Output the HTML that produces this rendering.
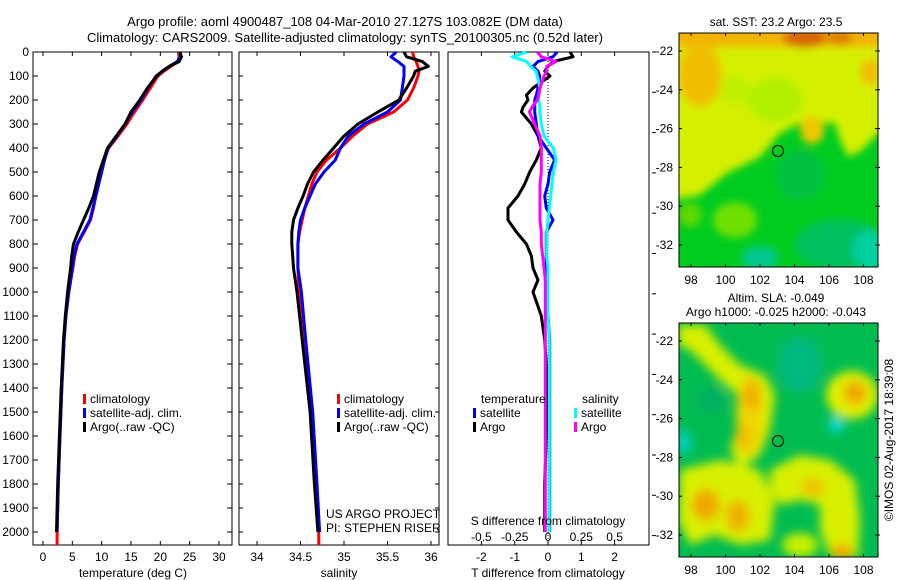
<!DOCTYPE html>
<html><head><meta charset="utf-8">
<style>
html,body{margin:0;padding:0;background:#fff;}
svg{display:block;font-family:"Liberation Sans",sans-serif;}
</style></head>
<body>
<svg id="fig" width="900" height="580" viewBox="0 0 900 580" xmlns="http://www.w3.org/2000/svg">
<defs>
<filter id="b1" x="-50%" y="-50%" width="200%" height="200%"><feGaussianBlur stdDeviation="4"/></filter>
<filter id="b2" x="-50%" y="-50%" width="200%" height="200%"><feGaussianBlur stdDeviation="5"/></filter>
<clipPath id="c1"><rect x="679" y="33" width="199" height="234"/></clipPath>
<clipPath id="c2"><rect x="679" y="323" width="199" height="234"/></clipPath>
</defs>
<g font-size="13" fill="#000">
<text x="345" y="26" text-anchor="middle">Argo profile: aoml 4900487_108 04-Mar-2010 27.127S 103.082E (DM data)</text>
<text x="345" y="42" text-anchor="middle">Climatology: CARS2009. Satellite-adjusted climatology: synTS_20100305.nc (0.52d later)</text>
</g>
<g id="p1"></g>
<g id="p2"></g>
<g id="p3"></g>

<!-- Map 1: SST -->
<g>
<text x="776" y="26" font-size="12" text-anchor="middle">sat. SST: 23.2 Argo: 23.5</text>
<g clip-path="url(#c1)">
<rect x="679" y="33" width="199" height="234" fill="#00cc20"/>
<g filter="url(#b1)">
<path d="M670 25 L890 25 L890 133 L878 133 L862 150 L848 157 L840 140 L835 123 L800 123 L780 133 L760 157 L727 173 L700 195 L670 200 Z" fill="#d4f000"/>
<ellipse cx="775" cy="100" rx="28" ry="22" fill="#b0f000"/>
<ellipse cx="735" cy="90" rx="15" ry="15" fill="#c0f000"/>
<rect x="670" y="25" width="230" height="22" fill="#f2b400"/>
<ellipse cx="700" cy="75" rx="22" ry="32" fill="#f0c000"/>
<ellipse cx="805" cy="38" rx="22" ry="10" fill="#d86800"/>
<ellipse cx="840" cy="38" rx="12" ry="8" fill="#e08000"/>
<ellipse cx="870" cy="72" rx="10" ry="14" fill="#f0c000"/>
<ellipse cx="812" cy="130" rx="12" ry="14" fill="#f0c800"/>
<ellipse cx="735" cy="220" rx="22" ry="18" fill="#70e000"/>
<ellipse cx="690" cy="215" rx="12" ry="12" fill="#60d800"/>
<ellipse cx="840" cy="245" rx="45" ry="25" fill="#00c060"/>
<ellipse cx="870" cy="250" rx="18" ry="20" fill="#00d0a0"/>
<ellipse cx="760" cy="258" rx="18" ry="12" fill="#00c890"/>
<ellipse cx="800" cy="175" rx="25" ry="25" fill="#00c040"/>
</g>
</g>
<rect x="679" y="33" width="199" height="234" fill="none" stroke="#000" stroke-width="1"/>
<circle cx="778" cy="151" r="5.5" fill="none" stroke="#000"/>
</g>

<!-- Map 2: SLA -->
<g>
<text x="776" y="302" font-size="12" text-anchor="middle">Altim. SLA: -0.049</text>
<text x="776" y="316" font-size="12" text-anchor="middle">Argo h1000: -0.025 h2000: -0.043</text>
<g clip-path="url(#c2)">
<rect x="679" y="323" width="199" height="234" fill="#00bc50"/>
<g filter="url(#b2)">
<path d="M678 325 L705 325 L720 345 L740 365 L765 375 L775 395 L770 430 L760 455 L740 470 L730 450 L740 420 L738 395 L720 380 L705 365 L690 350 L678 345 Z" fill="#d8f000"/>
<ellipse cx="750" cy="415" rx="14" ry="40" fill="#f0d800"/>
<ellipse cx="752" cy="395" rx="9" ry="15" fill="#f0b000"/>
<ellipse cx="743" cy="438" rx="8" ry="14" fill="#f0c000"/>
<path d="M680 470 L720 460 L760 470 L775 500 L770 540 L740 545 L715 535 L690 545 L678 520 Z" fill="#d8f000"/>
<ellipse cx="706" cy="505" rx="14" ry="16" fill="#f0a800"/>
<ellipse cx="738" cy="516" rx="12" ry="16" fill="#f0b000"/>
<path d="M770 470 L800 455 L830 460 L855 480 L860 520 L858 557 L830 557 L820 530 L820 505 L800 500 L780 505 L770 490 Z" fill="#d8f000"/>
<ellipse cx="813" cy="487" rx="12" ry="9" fill="#f0c000"/>
<ellipse cx="842" cy="552" rx="10" ry="9" fill="#f0a800"/>
<ellipse cx="800" cy="545" rx="18" ry="12" fill="#c8f000"/>
<ellipse cx="852" cy="395" rx="26" ry="24" fill="#e0f000"/>
<ellipse cx="855" cy="393" rx="12" ry="12" fill="#f0a800"/>
<ellipse cx="836" cy="425" rx="8" ry="8" fill="#00d8d0"/>
<ellipse cx="684" cy="442" rx="7" ry="12" fill="#00d0c8"/>
<ellipse cx="800" cy="365" rx="22" ry="28" fill="#00b880"/>
<ellipse cx="712" cy="400" rx="14" ry="14" fill="#00b060"/>
</g>
</g>
<rect x="679" y="323" width="199" height="234" fill="none" stroke="#000" stroke-width="1"/>
<circle cx="778" cy="441" r="5.5" fill="none" stroke="#000"/>
</g>
<g id="maxes" font-size="12"></g>
<text transform="translate(893,440) rotate(-90)" font-size="12" text-anchor="middle">©IMOS 02-Aug-2017 18:39:08</text>
</svg>
<script>
// ---------- data ----------
const depthT = [0,20,40,60,80,100,150,200,250,300,350,400,450,500,550,600,650,700,750,800,850,900,1000,1100,1200,1400,1600,1800,2000];
const tempArgo = [23.3,23.6,23.2,21.5,20.3,19.4,17.8,16.5,15.0,14.0,12.5,11.0,10.3,9.6,9.1,8.6,7.8,6.9,6.0,5.2,4.9,4.7,4.2,3.8,3.5,3.1,2.8,2.5,2.3];
const tempClim = [23.1,23.2,23.0,21.8,20.6,19.6,18.3,17.0,15.6,14.3,12.8,11.2,10.4,9.9,9.5,9.0,8.6,8.1,7.0,5.9,5.4,5.1,4.4,3.9,3.6,3.2,2.9,2.6,2.4];
const tempSat = [23.4,23.4,22.9,21.5,20.4,19.3,17.9,16.7,15.2,14.0,12.6,11.1,10.5,10.0,9.5,9.0,8.5,8.0,6.9,5.8,5.3,5.0,4.4,3.9,3.6,3.2,2.9,2.6,2.4];
const depthS = [0,20,40,60,80,100,150,200,250,300,350,400,450,500,550,600,650,700,750,800,850,900,1000,1200,1500,1800,2000];
const salArgo = [35.69,35.72,35.90,35.97,35.82,35.80,35.72,35.63,35.39,35.16,35.00,34.88,34.76,34.65,34.58,34.53,34.47,34.42,34.40,34.40,34.41,34.42,34.46,34.52,34.61,34.66,34.70];
const salClim = [35.79,35.80,35.83,35.85,35.86,35.85,35.80,35.73,35.57,35.27,35.10,34.96,34.80,34.69,34.63,34.59,34.55,34.52,34.49,34.47,34.47,34.47,34.48,34.54,34.62,34.67,34.71];
const salSat = [35.60,35.54,35.62,35.69,35.69,35.69,35.67,35.65,35.50,35.23,35.05,34.96,34.90,34.77,34.67,34.61,34.55,34.50,34.48,34.47,34.47,34.47,34.51,34.56,34.64,34.69,34.72];
const depthD = [0,20,40,60,80,100,150,180,200,230,250,300,350,400,450,500,550,600,650,700,750,800,850,900,950,1000,1100,1200,1300,1400,1600,1800,2000];
const dTArgo = [0.66,0.75,0.15,0.0,-0.1,0.06,-0.45,-0.65,-0.6,-0.75,-0.8,-0.5,-0.3,-0.2,-0.35,-0.55,-0.7,-0.9,-1.2,-1.2,-0.95,-0.65,-0.5,-0.45,-0.3,-0.45,-0.2,-0.1,-0.05,0.0,-0.05,-0.1,-0.1];
const dTSat = [0.27,0.15,-0.3,-0.45,-0.3,-0.25,-0.3,-0.35,-0.4,-0.4,-0.4,-0.35,-0.3,-0.05,0.2,0.05,0.0,-0.1,-0.05,0.15,-0.05,-0.05,-0.05,-0.05,-0.05,-0.05,0.0,0.05,0.05,0.05,0.05,0.05,0.05];
const dSSat = [-0.16,-0.27,-0.16,-0.13,-0.09,-0.08,-0.06,-0.07,-0.07,-0.06,-0.06,-0.05,-0.03,0.04,0.06,0.04,0.03,0.02,0.01,0.0,-0.01,-0.01,-0.01,0.0,0.0,0.0,0.0,0.01,0.01,0.01,0.01,0.01,0.01];
const dSArgo = [-0.08,-0.05,0.06,-0.01,-0.01,-0.03,-0.06,-0.07,-0.08,-0.12,-0.14,-0.10,-0.06,-0.05,-0.05,-0.05,-0.06,-0.06,-0.06,-0.06,-0.05,-0.05,-0.04,-0.03,-0.02,-0.02,-0.02,-0.02,-0.02,-0.02,-0.02,-0.02,-0.02];
const depthTicks = [0,100,200,300,400,500,600,700,800,900,1000,1100,1200,1300,1400,1500,1600,1700,1800,1900,2000];
const tempTicks = [0,5,10,15,20,25,30];
const salTicks = [34,34.5,35,35.5,36];
const dTTicks = [-2,-1,0,1,2];
const dSTicks = [-0.5,-0.25,0,0.25,0.5];
const lonTicks = [98,100,102,104,106,108];
const latTicks = [-22,-24,-26,-28,-30,-32];

// ---------- helpers ----------
const NS='http://www.w3.org/2000/svg';
const TOP=52, BOT=545;
const yD = d => TOP + d*0.24;
const xT = t => 43 + t*(176/30);
const xS = s => 257 + (s-34)*87;
const xDT = t => 548 + t*33.3;
const xDS = s => 548 + s*133.2;
function mk(parent, tag, attrs){const e=document.createElementNS(NS,tag);for(const k in attrs)e.setAttribute(k,attrs[k]);parent.appendChild(e);return e;}
function txt(parent,x,y,s,anchor,size){const e=mk(parent,'text',{x:x,y:y,'font-size':size||12,'text-anchor':anchor||'middle'});e.textContent=s;return e;}
function line(parent,xs,ds,fx,color,w){
  const pts=xs.map((v,i)=>fx(v).toFixed(1)+','+yD(ds[i]).toFixed(1)).join(' ');
  return mk(parent,'polyline',{points:pts,fill:'none',stroke:color,'stroke-width':w||3,'stroke-linejoin':'round'});
}
function frame(g,x0,x1){mk(g,'rect',{x:x0,y:TOP,width:x1-x0,height:BOT-TOP,fill:'none',stroke:'#000','stroke-width':1});}

// ---------- panel 1 ----------
const p1=document.getElementById('p1');
frame(p1,33,232);
depthTicks.forEach(d=>{
  mk(p1,'line',{x1:33,x2:38,y1:yD(d),y2:yD(d),stroke:'#000'});
  mk(p1,'line',{x1:227,x2:232,y1:yD(d),y2:yD(d),stroke:'#000'});
  const t=txt(p1,29,yD(d)+4,String(d),'end');
  
  
});
tempTicks.forEach(v=>{
  mk(p1,'line',{x1:xT(v),x2:xT(v),y1:TOP,y2:TOP+4,stroke:'#000'});
  mk(p1,'line',{x1:xT(v),x2:xT(v),y1:BOT-4,y2:BOT,stroke:'#000'});
  const t=txt(p1,xT(v),561,String(v));
  
  
});
let l;
l=line(p1,tempClim,depthT,xT,'#ff0000');


l=line(p1,tempSat,depthT,xT,'#0000ff');


l=line(p1,tempArgo,depthT,xT,'#000000');


mk(p1,'line',{x1:xT(2.4),x2:xT(2.4),y1:yD(2000),y2:BOT,stroke:'#ff0000','stroke-width':3});
let t=txt(p1,133,577,'temperature (deg C)');


function legend(g,x,y,items,name){
  const lg=mk(g,'g',{});
  
  
  items.forEach((it,i)=>{
    mk(lg,'rect',{x:x,y:y+i*14-9,width:3,height:10,fill:it[1]});
    txt(lg,x+7,y+i*14,it[0],'start');
  });
}
legend(p1,83,403,[['climatology','#ff0000'],['satellite-adj. clim.','#0000ff'],['Argo(..raw -QC)','#000']],'temperature-legend');

// ---------- panel 2 ----------
const p2=document.getElementById('p2');
frame(p2,239,439);
depthTicks.forEach(d=>{
  mk(p2,'line',{x1:239,x2:243,y1:yD(d),y2:yD(d),stroke:'#000'});
  mk(p2,'line',{x1:435,x2:439,y1:yD(d),y2:yD(d),stroke:'#000'});
});
salTicks.forEach(v=>{
  mk(p2,'line',{x1:xS(v),x2:xS(v),y1:TOP,y2:TOP+4,stroke:'#000'});
  mk(p2,'line',{x1:xS(v),x2:xS(v),y1:BOT-4,y2:BOT,stroke:'#000'});
  const tt=txt(p2,xS(v),561,String(v));
  
  
});
l=line(p2,salClim,depthS,xS,'#ff0000');


l=line(p2,salSat,depthS,xS,'#0000ff');


l=line(p2,salArgo,depthS,xS,'#000000');


mk(p2,'line',{x1:xS(34.71),x2:xS(34.71),y1:yD(2000),y2:BOT,stroke:'#ff0000','stroke-width':3});
t=txt(p2,339,577,'salinity');


legend(p2,337,403,[['climatology','#ff0000'],['satellite-adj. clim.','#0000ff'],['Argo(..raw -QC)','#000']],'salinity-legend');
t=txt(p2,326,518,'US ARGO PROJECT','start');


t=txt(p2,326,532,'PI: STEPHEN RISER','start');



// ---------- panel 3 ----------
const p3=document.getElementById('p3');
frame(p3,448,649);
mk(p3,'line',{x1:548,x2:548,y1:TOP,y2:BOT,stroke:'#000','stroke-dasharray':'1,2'});
dTTicks.forEach(v=>{
  mk(p3,'line',{x1:xDT(v),x2:xDT(v),y1:TOP,y2:TOP+4,stroke:'#000'});
  mk(p3,'line',{x1:xDT(v),x2:xDT(v),y1:BOT-4,y2:BOT,stroke:'#000'});
  const tt=txt(p3,xDT(v),561,String(v));
  
  
});
dSTicks.forEach(v=>{
  const tt=txt(p3,xDS(v),541,String(v));
  
  
});
for(let i=0;i<13;i++){const y=TOP+i*40.3;mk(p3,'line',{x1:652,x2:656,y1:y,y2:y,stroke:'#000'});}
l=line(p3,dTArgo,depthD,xDT,'#000000');


l=line(p3,dTSat,depthD,xDT,'#0000ff');


l=line(p3,dSSat,depthD,xDS,'#00ffff');


l=line(p3,dSArgo,depthD,xDS,'#ff00ff');


t=txt(p3,548,577,'T difference from climatology');


t=txt(p3,548,525,'S difference from climatology');


t=txt(p3,481,403,'temperature','start');


t=txt(p3,582,403,'salinity','start');


legend(p3,473,417,[['satellite','#0000ff'],['Argo','#000']],'t-difference-legend');
legend(p3,574,417,[['satellite','#00ffff'],['Argo','#ff00ff']],'s-difference-legend');

// ---------- map axes ----------
const ma=document.getElementById('maxes');
const xLon = lo => 691 + (lo-98)*17.25;
function mapAxes(y0){
  const yLat = la => y0 + 18 + (-22-la)*19.4;
  lonTicks.forEach(v=>{
    mk(ma,'line',{x1:xLon(v),x2:xLon(v),y1:y0,y2:y0+3,stroke:'#000'});
    mk(ma,'line',{x1:xLon(v),x2:xLon(v),y1:y0+231,y2:y0+234,stroke:'#000'});
    const tt=txt(ma,xLon(v),y0+251,String(v));
    
    
  });
  latTicks.forEach(v=>{
    mk(ma,'line',{x1:679,x2:682,y1:yLat(v),y2:yLat(v),stroke:'#000'});
    mk(ma,'line',{x1:875,x2:880,y1:yLat(v),y2:yLat(v),stroke:'#000'});
    const tt=txt(ma,673,yLat(v)+4,String(v),'end');
    
    
  });
}
mapAxes(33);
mapAxes(323);
</script>
</body></html>
